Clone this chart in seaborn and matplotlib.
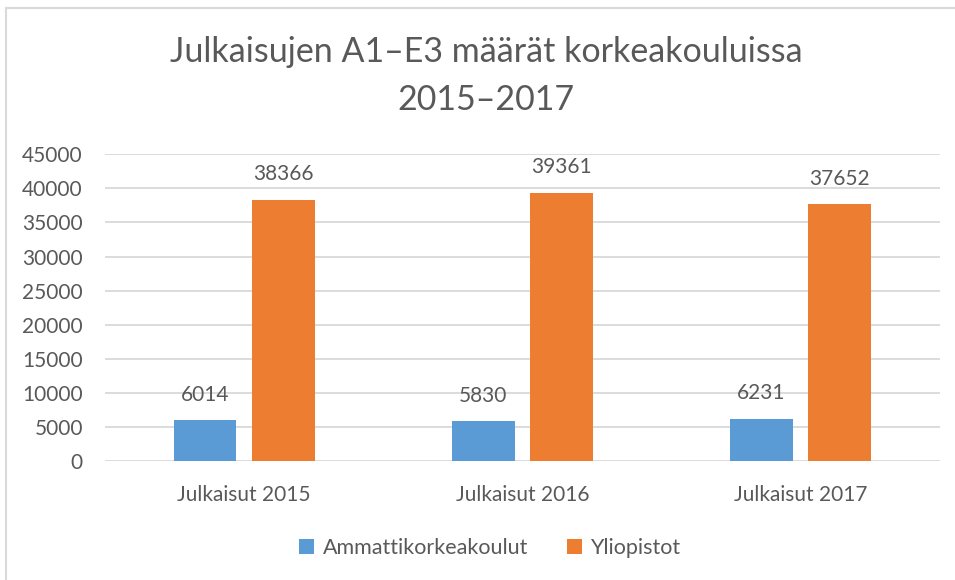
import pandas as pd
import seaborn as sns
import matplotlib.pyplot as plt
from matplotlib.patches import Rectangle

# data
years = ['Julkaisut 2015', 'Julkaisut 2016', 'Julkaisut 2017']
amk = [6014, 5830, 6231]
yliopistot = [38366, 39361, 37652]
series = ['Ammattikorkeakoulut', 'Yliopistot']

df = pd.DataFrame({
    'vuosi': years * 2,
    'sarja': [series[0]] * 3 + [series[1]] * 3,
    'maara': amk + yliopistot,
})

sns.set_style('white')
plt.rcParams['font.family'] = ['Lato', 'DejaVu Sans']
text_col = '#595959'

fig = plt.figure(figsize=(9.55, 5.8), dpi=100)
ax = fig.add_axes([0.110, 0.205, 0.874, 0.529])

sns.barplot(data=df, x='vuosi', y='maara', hue='sarja',
            palette=['#5B9BD5', '#ED7D31'], width=0.563, gap=0.2,
            saturation=1, linewidth=0, legend=True, ax=ax)

for c in ax.containers:
    ax.bar_label(c, fmt='%d', padding=11, fontsize=15, color=text_col)

ax.set_ylim(0, 45000)
ax.set_yticks(range(0, 45001, 5000))
ax.yaxis.grid(True, color='#D9D9D9', linewidth=1.3)
ax.set_axisbelow(True)
sns.despine(ax=ax, left=True, bottom=True)
ax.set_xlabel('')
ax.set_ylabel('')
ax.tick_params(axis='x', length=0, pad=17, labelsize=15, labelcolor=text_col)
ax.tick_params(axis='y', length=0, pad=16, labelsize=15, labelcolor=text_col)

leg = ax.legend(loc='center', bbox_to_anchor=(0.461, -0.283), ncol=2, frameon=False,
                fontsize=15.5, handlelength=0.7, handleheight=0.7, handletextpad=0.4,
                columnspacing=1.8)
for t in leg.get_texts():
    t.set_color(text_col)

fig.text(486 / 955, 1 - 76 / 580, 'Julkaisujen A1–E3 määrät korkeakouluissa\n2015–2017',
         ha='center', va='center', fontsize=24.5, color=text_col, linespacing=1.65)

# chart frame (partly cut off on right and bottom)
fig.patches.append(Rectangle((6 / 955, -0.2), 1.2, 1.2 - 8 / 580, transform=fig.transFigure,
                             fill=False, edgecolor='#D9D9D9', linewidth=1.5))

fig.savefig('out.png', dpi=100)
